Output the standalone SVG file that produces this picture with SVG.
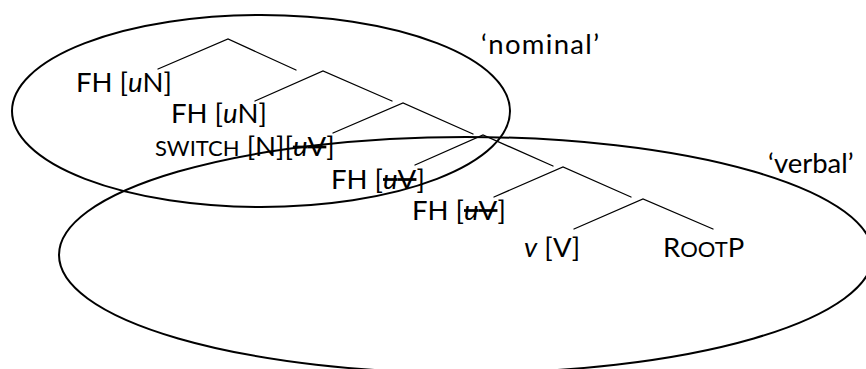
<svg xmlns="http://www.w3.org/2000/svg" width="866" height="369" viewBox="0 0 866 369">
<style>
  .ell { fill: none; stroke: #000; stroke-width: 2; }
  .br { fill: none; stroke: #000; stroke-width: 1.3; stroke-linecap: round; }
  text { font-family: Lato, "Open Sans", "Liberation Sans", sans-serif; font-size: 27.5px; fill: #000; }
  .sc { font-size: 22px; }
  .it { font-style: italic; }
  .st { text-decoration: line-through; }
</style>
<rect width="866" height="369" fill="#fff"/>
<g id="ellipses">
  <ellipse id="nominal-set" class="ell" cx="261" cy="111" rx="249" ry="96"/>
  <ellipse id="verbal-set" class="ell" cx="466" cy="255" rx="407" ry="118"/>
</g>
<g id="connectors">
  <path class="br" d="M158,69 L228,39 L296,70"/>
  <path class="br" d="M255,101 L323,71 L392,101"/>
  <path class="br" d="M333,133 L403,103 L473,134"/>
  <path class="br" d="M415,165 L483,135 L553,166"/>
  <path class="br" d="M494,197 L563,167 L631,197"/>
  <path class="br" d="M574,229 L643,199 L713,229"/>
</g>
<g id="label-nominal"><text x="481" y="54" textLength="118">‘nominal’</text></g>
<g id="label-verbal"><text x="768" y="173">‘verbal’</text></g>
<g id="fh1"><text x="76" y="91.5">FH [<tspan class="it">u</tspan>N]</text></g>
<g id="fh2"><text x="171" y="123">FH [<tspan class="it">u</tspan>N]</text></g>
<g id="switch"><text x="155" y="156"><tspan class="sc">SWITCH</tspan> [N][<tspan class="st"><tspan class="it">u</tspan>V</tspan>]</text></g>
<g id="fh3"><text x="331" y="188.5">FH [<tspan class="st"><tspan class="it">u</tspan>V</tspan>]</text></g>
<g id="fh4"><text x="412" y="219.5">FH [<tspan class="st"><tspan class="it">u</tspan>V</tspan>]</text></g>
<g id="v"><text x="524" y="256.5"><tspan class="it">v</tspan> [V]</text></g>
<g id="rootp"><text x="663" y="256.5">R<tspan class="sc">OOT</tspan>P</text></g>
</svg>
